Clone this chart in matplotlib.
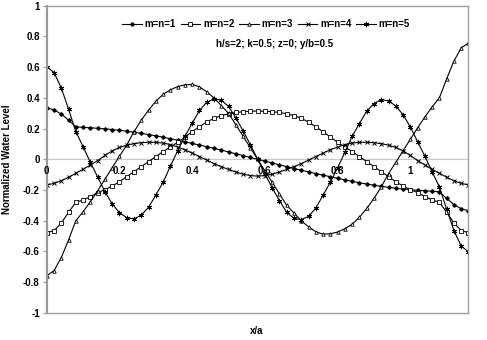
import matplotlib
matplotlib.use('Agg')
import matplotlib.pyplot as plt

plt.rcParams['font.family'] = ['Liberation Sans', 'DejaVu Sans']
plt.rcParams['axes.unicode_minus'] = False

x = [0.00, 0.02, 0.04, 0.06, 0.08, 0.10, 0.12, 0.14, 0.16, 0.18,
     0.20, 0.22, 0.24, 0.26, 0.28, 0.30, 0.32, 0.34, 0.36, 0.38,
     0.40, 0.42, 0.44, 0.46, 0.48, 0.50, 0.52, 0.54, 0.56, 0.58,
     0.60, 0.62, 0.64, 0.66, 0.68, 0.70, 0.72, 0.74, 0.76, 0.78,
     0.80, 0.82, 0.84, 0.86, 0.88, 0.90, 0.92, 0.94, 0.96, 0.98,
     1.00, 1.02, 1.04, 1.06, 1.08, 1.10, 1.12, 1.14, 1.16]

mn1 = [0.335, 0.322, 0.295, 0.255, 0.212, 0.208, 0.205, 0.202, 0.198, 0.194,
       0.189, 0.183, 0.176, 0.169, 0.161, 0.153, 0.144, 0.134, 0.124, 0.114,
       0.103, 0.093, 0.082, 0.071, 0.060, 0.048, 0.036, 0.024, 0.012, 0.0,
       -0.012, -0.024, -0.036, -0.048, -0.060, -0.071, -0.082, -0.093, -0.103, -0.114,
       -0.124, -0.134, -0.144, -0.153, -0.161, -0.169, -0.176, -0.183, -0.189, -0.194,
       -0.198, -0.202, -0.205, -0.208, -0.212, -0.255, -0.295, -0.322, -0.335]

mn2 = [-0.478, -0.465, -0.415, -0.345, -0.280, -0.265, -0.243, -0.217, -0.198, -0.174,
       -0.146, -0.113, -0.080, -0.048, -0.015, 0.018, 0.050, 0.080, 0.110, 0.145,
       0.180, 0.212, 0.243, 0.267, 0.284, 0.296, 0.305, 0.310, 0.313, 0.314,
       0.313, 0.310, 0.305, 0.296, 0.284, 0.267, 0.243, 0.212, 0.180, 0.145,
       0.110, 0.080, 0.050, 0.018, -0.015, -0.048, -0.080, -0.113, -0.146, -0.174,
       -0.198, -0.217, -0.243, -0.265, -0.280, -0.345, -0.415, -0.465, -0.478]

mn3 = [-0.758, -0.726, -0.640, -0.525, -0.400, -0.342, -0.276, -0.205, -0.130, -0.055,
       0.020, 0.093, 0.180, 0.255, 0.320, 0.378, 0.423, 0.452, 0.474, 0.485,
       0.488, 0.472, 0.440, 0.400, 0.350, 0.300, 0.225, 0.150, 0.075, 0.0,
       -0.075, -0.150, -0.225, -0.300, -0.350, -0.400, -0.440, -0.472, -0.488, -0.485,
       -0.474, -0.452, -0.423, -0.378, -0.320, -0.255, -0.180, -0.093, -0.020, 0.055,
       0.130, 0.205, 0.276, 0.342, 0.400, 0.525, 0.640, 0.726, 0.758]

mn4 = [-0.167, -0.157, -0.140, -0.117, -0.091, -0.065, -0.037, -0.008, 0.025, 0.055,
       0.077, 0.092, 0.102, 0.108, 0.111, 0.110, 0.106, 0.096, 0.080, 0.062,
       0.040, 0.018, -0.005, -0.028, -0.048, -0.066, -0.083, -0.097, -0.106, -0.110,
       -0.106, -0.097, -0.083, -0.066, -0.048, -0.028, -0.005, 0.018, 0.040, 0.062,
       0.080, 0.096, 0.106, 0.110, 0.111, 0.108, 0.102, 0.092, 0.077, 0.055,
       0.025, -0.008, -0.037, -0.065, -0.091, -0.117, -0.140, -0.157, -0.167]

mn5 = [0.603, 0.565, 0.465, 0.326, 0.180, 0.082, -0.020, -0.115, -0.211, -0.290,
       -0.348, -0.380, -0.389, -0.363, -0.313, -0.233, -0.150, -0.045, 0.055, 0.150,
       0.234, 0.318, 0.372, 0.393, 0.385, 0.345, 0.270, 0.185, 0.095, 0.0,
       -0.095, -0.185, -0.270, -0.345, -0.385, -0.393, -0.372, -0.318, -0.234, -0.150,
       -0.055, 0.045, 0.150, 0.233, 0.313, 0.363, 0.389, 0.380, 0.348, 0.290,
       0.211, 0.115, 0.020, -0.082, -0.180, -0.326, -0.465, -0.565, -0.603]

labels = ['m=n=1', 'm=n=2', 'm=n=3', 'm=n=4', 'm=n=5']
xticks = [0, 0.2, 0.4, 0.6, 0.8, 1]
xticklabels = ['0', '0.2', '0.4', '0.6', '0.8', '1']
yticks = [-1, -0.8, -0.6, -0.4, -0.2, 0, 0.2, 0.4, 0.6, 0.8, 1]
yticklabels = ['-1', '-0.8', '-0.6', '-0.4', '-0.2', '0', '0.2', '0.4', '0.6', '0.8', '1']

fig = plt.figure(figsize=(4.87, 3.40), dpi=100)
ax = fig.add_axes([0.096, 0.080, 0.866, 0.903])

lw = 0.8
ax.plot(x, mn1, color='black', lw=lw, marker='D', ms=1.8, mfc='black', mec='black', label=labels[0])
ax.plot(x, mn2, color='black', lw=lw, marker='s', ms=2.3, mfc='white', mec='black', mew=0.6, label=labels[1])
ax.plot(x, mn3, color='black', lw=lw, marker='^', ms=2.5, mfc='white', mec='black', mew=0.6, label=labels[2])
ax.plot(x, mn4, color='black', lw=lw, marker='x', ms=3.3, mew=0.7, label=labels[3])
ax.plot(x, mn5, color='black', lw=lw, marker=(6, 2, 0), ms=3.8, mew=0.7, label=labels[4])

ax.set_xlim(0, 1.16)
ax.set_ylim(-1, 1)

# zero line acts as the x axis
ax.axhline(0, color='#c8c8c8', lw=0.9, zorder=0)

for side in ['top', 'right', 'bottom']:
  ax.spines[side].set_color('#a0a0a0')
  ax.spines[side].set_linewidth(1.0)
ax.spines['left'].set_color('#999999')
ax.spines['left'].set_linewidth(1.6)

ax.set_yticks(yticks)
ax.set_yticklabels(yticklabels, fontsize=7, fontweight='bold')
ax.tick_params(axis='y', length=3, width=0.8, color='#999999', pad=2)

ax.set_xticks(xticks)
ax.set_xticklabels([])
ax.tick_params(axis='x', length=0)
for xv, lab in zip(xticks, xticklabels):
  ax.text(xv, -0.045, lab, ha='center', va='top', fontsize=7, fontweight='bold')

ax.set_ylabel('Normalized Water Level', fontsize=7, fontweight='bold', labelpad=8)
fig.text(0.528, 0.027, 'x/a', ha='center', va='center', fontsize=7, fontweight='bold')

ax.legend(loc='center', bbox_to_anchor=(0.52, 0.94), ncol=5, frameon=False,
          prop={'weight': 'bold', 'size': 7}, handlelength=2.0,
          columnspacing=0.5, handletextpad=0.3, borderpad=0)
ax.text(0.54, 0.876, 'h/s=2; k=0.5; z=0; y/b=0.5', transform=ax.transAxes,
        ha='center', va='center', fontsize=7, fontweight='bold')

fig.savefig('out.png', dpi=100)
